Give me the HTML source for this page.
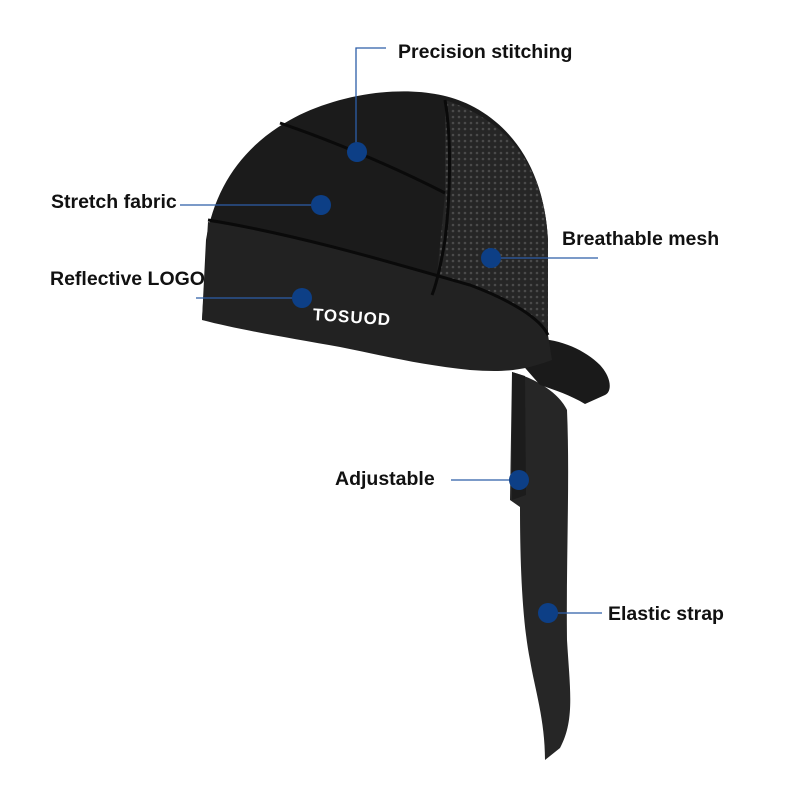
<!DOCTYPE html>
<html><head><meta charset="utf-8"><style>
html,body{margin:0;padding:0;background:#fff}
svg{display:block}
text{font-family:"Liberation Sans",sans-serif;font-weight:bold;font-size:19.5px;fill:#111}
</style></head><body>
<svg width="800" height="800" viewBox="0 0 800 800">
<defs>
<pattern id="mesh" width="6" height="6" patternUnits="userSpaceOnUse">
<rect width="6" height="6" fill="#262626"/><circle cx="3" cy="3" r="1.3" fill="#4a4a4a"/>
</pattern>
</defs>
<!-- tail -->
<path d="M512,372 C540,380 560,395 567,410 C570,480 566,560 567,640 C570,690 575,720 560,748 L545,760 C545,720 535,690 530,660 C522,620 520,560 520,507 L510,500 L512,372 Z" fill="#262626"/>
<path d="M512,372 L525,376 L526,495 L512,500 Z" fill="#1c1c1c"/>
<!-- bow loop -->
<path d="M505,345 C540,330 580,345 600,365 C612,378 612,392 605,395 L585,404 C570,395 555,390 540,385 Z" fill="#1a1a1a"/>
<!-- dome -->
<path d="M202,320 L206,240 C215,185 245,145 290,120 C340,92 420,80 470,105 C520,130 545,180 548,240 L548,335 Z" fill="#1b1b1b"/>
<!-- mesh -->
<path d="M445,100 C520,125 545,180 548,240 L548,335 C520,320 470,305 435,295 L445,195 Z" fill="url(#mesh)"/>
<!-- band -->
<path d="M208,222 C300,235 400,265 470,285 C510,300 540,318 548,335 L552,360 C520,372 500,372 470,370 C420,365 380,355 340,347 C290,338 240,330 202,320 Z" fill="#222"/>
<!-- seams -->
<path d="M208,220 C300,235 400,265 470,285 C510,300 540,318 548,335" fill="none" stroke="#0a0a0a" stroke-width="3"/>
<path d="M280,123 C330,140 390,165 445,193" fill="none" stroke="#0a0a0a" stroke-width="3"/>
<path d="M445,100 C452,140 450,200 445,240 C440,270 436,285 432,295" fill="none" stroke="#0a0a0a" stroke-width="3"/>
<text x="313" y="320" style="font-size:17px;fill:#fff;letter-spacing:1px" transform="rotate(4 313 312)">TOSUOD</text>
<!-- connectors -->
<g stroke="#2c5ea8" stroke-width="1.3" fill="none">
<path d="M356,152 V48 H386"/>
<path d="M180,205 H321"/>
<path d="M491,258 H598"/>
<path d="M196,298 H302"/>
<path d="M451,480 H519"/>
<path d="M548,613 H602"/>
</g>
<g fill="#0d3f86">
<circle cx="357" cy="152" r="10"/>
<circle cx="321" cy="205" r="10"/>
<circle cx="491" cy="258" r="10"/>
<circle cx="302" cy="298" r="10"/>
<circle cx="519" cy="480" r="10"/>
<circle cx="548" cy="613" r="10"/>
</g>
<text x="398" y="58">Precision stitching</text>
<text x="51" y="208">Stretch fabric</text>
<text x="562" y="245">Breathable mesh</text>
<text x="50" y="285">Reflective LOGO</text>
<text x="335" y="485">Adjustable</text>
<text x="608" y="620">Elastic strap</text>
</svg>
</body></html>
